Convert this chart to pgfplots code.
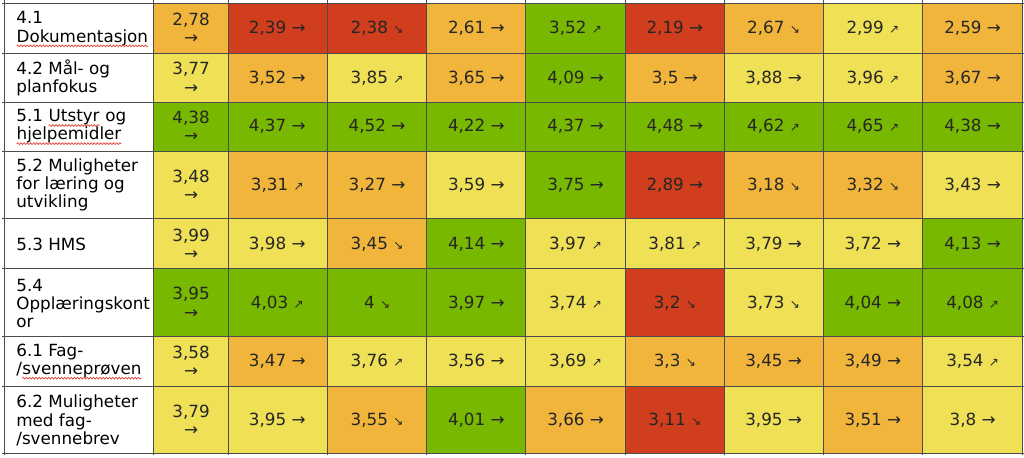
\documentclass[border=0pt]{standalone}
\usepackage{fontspec}
\setmainfont{DejaVu Sans}
\usepackage{pgfplots}
\pgfplotsset{compat=1.18}
\usetikzlibrary{decorations.pathmorphing}
\definecolor{sqred}{HTML}{E0403A}
\newcommand\cf{\fontsize{8.4}{9.1}\selectfont}
\tikzset{lab/.style={anchor=west,align=left,inner sep=0pt,font=\cf}}
\newcommand\ua{\scalebox{0.72}{↗}}
\newcommand\da{\scalebox{0.72}{↘}}
\newcommand\sq[1]{\tikz[baseline=(w.base)]{\node[anchor=base west,inner sep=0pt,outer sep=0pt,align=left](w){#1};
 \draw[sqred,line width=0.35pt,decorate,decoration={snake,amplitude=0.45pt,segment length=1.6pt}] ([yshift=-1.9pt]w.base west)--([yshift=-1.9pt]w.base east);}}

% colour class of each cell: 0 red, 1 orange, 2 yellow, 3 green, 4 white (label column / unused border)
\pgfplotstableread[row sep=\\]{
x y c\\
3 3 4\\ 152 3 1\\ 227 3 0\\ 326 3 0\\ 426 3 1\\ 525 3 3\\ 625 3 0\\ 724 3 1\\ 823 3 2\\ 923 3 1\\ 1023 3 4\\
3 53 4\\ 152 53 2\\ 227 53 1\\ 326 53 2\\ 426 53 1\\ 525 53 3\\ 625 53 1\\ 724 53 2\\ 823 53 2\\ 923 53 1\\ 1023 53 4\\
3 102 4\\ 152 102 3\\ 227 102 3\\ 326 102 3\\ 426 102 3\\ 525 102 3\\ 625 102 3\\ 724 102 3\\ 823 102 3\\ 923 102 3\\ 1023 102 4\\
3 151 4\\ 152 151 2\\ 227 151 1\\ 326 151 1\\ 426 151 2\\ 525 151 3\\ 625 151 0\\ 724 151 1\\ 823 151 1\\ 923 151 2\\ 1023 151 4\\
3 219 4\\ 152 219 2\\ 227 219 2\\ 326 219 1\\ 426 219 3\\ 525 219 2\\ 625 219 2\\ 724 219 2\\ 823 219 2\\ 923 219 3\\ 1023 219 4\\
3 269 4\\ 152 269 3\\ 227 269 3\\ 326 269 3\\ 426 269 3\\ 525 269 2\\ 625 269 0\\ 724 269 2\\ 823 269 3\\ 923 269 3\\ 1023 269 4\\
3 337 4\\ 152 337 2\\ 227 337 1\\ 326 337 2\\ 426 337 2\\ 525 337 2\\ 625 337 1\\ 724 337 1\\ 823 337 1\\ 923 337 2\\ 1023 337 4\\
3 387 4\\ 152 387 2\\ 227 387 2\\ 326 387 1\\ 426 387 3\\ 525 387 1\\ 625 387 0\\ 724 387 2\\ 823 387 1\\ 923 387 2\\ 1023 387 4\\
3 454 4\\ 152 454 4\\ 227 454 4\\ 326 454 4\\ 426 454 4\\ 525 454 4\\ 625 454 4\\ 724 454 4\\ 823 454 4\\ 923 454 4\\ 1023 454 4\\
}\cells

\begin{document}
\begin{tikzpicture}
\begin{axis}[scale only axis,width=512pt,height=228pt,xmin=0,xmax=1024,ymin=0,ymax=456,y dir=reverse,
 axis line style={draw=none},tick style={draw=none},
 xtick={3,152,227,326,426,525,625,724,823,923,1023},ytick={3,53,102,151,219,269,337,387,454},
 xticklabels={},yticklabels={},ticklabel style={inner sep=0pt,outer sep=0pt},
 grid=major,major grid style={black!70,line width=0.5pt},axis on top,clip=false,
 colormap={cls}{rgb255=(209,62,30) rgb255=(241,181,60) rgb255=(239,224,86) rgb255=(120,184,0) rgb255=(255,255,255)},
 point meta min=0,point meta max=4]
 \addplot[surf,shader=flat corner,mesh input=lattice,mesh/cols=11,point meta=explicit] table[x=x,y=y,meta=c]{\cells};
 % first column: value and arrow wrap onto two lines
 \addplot[mark=none,draw=none,point meta=explicit symbolic,nodes near coords,nodes near coords align=center,
  nodes near coords style={font=\cf,text=black!85,text width=20pt,align=center,inner sep=0pt}]
  coordinates {(189.5,28) [2,78 →] (189.5,77.5) [3,77 →] (189.5,126.5) [4,38 →] (189.5,185) [3,48 →]
   (189.5,244) [3,99 →] (189.5,303) [3,95 →] (189.5,362) [3,58 →] (189.5,420.5) [3,79 →]};
 \addplot[mark=none,draw=none,point meta=explicit symbolic,nodes near coords,nodes near coords align=center,
  nodes near coords style={font=\cf,text=black!85,inner sep=0pt}]
  coordinates {
  (276,28) [2,39 →] (376,28) [2,38 \da] (475.5,28) [2,61 →] (575,28) [3,52 \ua] (674.5,28) [2,19 →] (773.5,28) [2,67 \da] (873,28) [2,99 \ua] (973,28) [2,59 →]
  (276,77.5) [3,52 →] (376,77.5) [3,85 \ua] (475.5,77.5) [3,65 →] (575,77.5) [4,09 →] (674.5,77.5) [3,5 →] (773.5,77.5) [3,88 →] (873,77.5) [3,96 \ua] (973,77.5) [3,67 →]
  (276,126.5) [4,37 →] (376,126.5) [4,52 →] (475.5,126.5) [4,22 →] (575,126.5) [4,37 →] (674.5,126.5) [4,48 →] (773.5,126.5) [4,62 \ua] (873,126.5) [4,65 \ua] (973,126.5) [4,38 →]
  (276,185) [3,31 \ua] (376,185) [3,27 →] (475.5,185) [3,59 →] (575,185) [3,75 →] (674.5,185) [2,89 →] (773.5,185) [3,18 \da] (873,185) [3,32 \da] (973,185) [3,43 →]
  (276,244) [3,98 →] (376,244) [3,45 \da] (475.5,244) [4,14 →] (575,244) [3,97 \ua] (674.5,244) [3,81 \ua] (773.5,244) [3,79 →] (873,244) [3,72 →] (973,244) [4,13 →]
  (276,303) [4,03 \ua] (376,303) [4 \da] (475.5,303) [3,97 →] (575,303) [3,74 \ua] (674.5,303) [3,2 \da] (773.5,303) [3,73 \da] (873,303) [4,04 →] (973,303) [4,08 \ua]
  (276,362) [3,47 →] (376,362) [3,76 \ua] (475.5,362) [3,56 →] (575,362) [3,69 \ua] (674.5,362) [3,3 \da] (773.5,362) [3,45 →] (873,362) [3,49 →] (973,362) [3,54 \ua]
  (276,420.5) [3,95 →] (376,420.5) [3,55 \da] (475.5,420.5) [4,01 →] (575,420.5) [3,66 →] (674.5,420.5) [3,11 \da] (773.5,420.5) [3,95 →] (873,420.5) [3,51 →] (973,420.5) [3,8 →]
  };
 \node[lab] at (axis cs:14,29) {4.1\\\sq{Dokumentasjon}};
 \node[lab] at (axis cs:14,77.5) {4.2 Mål- og\\planfokus};
 \node[lab] at (axis cs:14,127) {5.1 \sq{Utstyr} og\\\sq{hjelpemidler}};
 \node[lab] at (axis cs:14,185) {5.2 Muligheter\\for læring og\\utvikling};
 \node[lab] at (axis cs:14,244) {5.3 HMS};
 \node[lab] at (axis cs:14,304) {5.4\\Opplæringskont\\or};
 \node[lab] at (axis cs:14,362) {6.1 Fag-\\/\sq{svenneprøven}};
 \node[lab] at (axis cs:14,421) {6.2 Muligheter\\med fag-\\/svennebrev};
\end{axis}
\end{tikzpicture}
\end{document}
